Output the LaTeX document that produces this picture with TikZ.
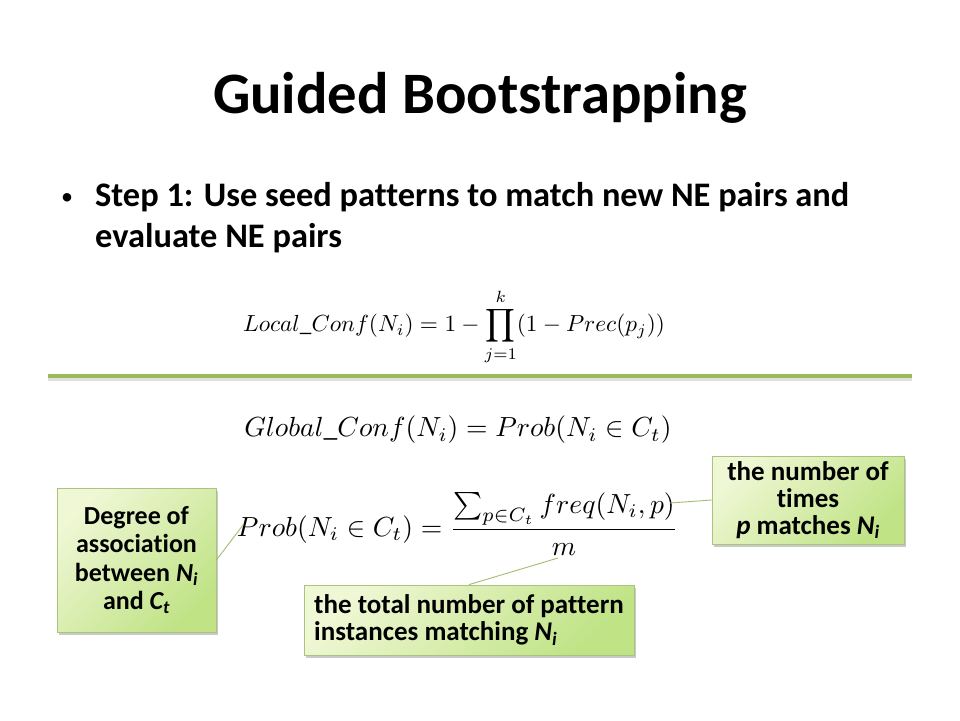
\documentclass[tikz,border=0pt]{standalone}
\usepackage[no-math]{fontspec}
\setmainfont{Carlito}[Ligatures=NoCommon]
\usepackage{graphicx}
\usetikzlibrary{shadows}
\definecolor{accent}{HTML}{9BBB59}
\definecolor{boxlight}{HTML}{EFF7D4}
\definecolor{boxdark}{HTML}{C0E386}
\definecolor{boxborder}{HTML}{A9C47E}
\definecolor{leader}{HTML}{A3BD6E}
\tikzset{
  callout/.style={draw=boxborder, line width=0.8pt, top color=boxlight, bottom color=boxdark,
    shading angle=45, inner sep=0pt,
    drop shadow={shadow xshift=2pt, shadow yshift=-3pt, opacity=0.35, fill=black!60}},
  calloutfont/.style 2 args={font=\fontsize{#1}{#2}\selectfont\bfseries},
  leaderline/.style={draw=leader, line width=0.9pt},
  formula/.style={inner sep=0pt, anchor=center},
}
\newcommand{\Nsub}{\textit{N\textsubscript{i}}}
\newcommand{\Csub}{\textit{C\textsubscript{t}}}
\begin{document}
\begin{tikzpicture}[x=1pt,y=-1pt]
\useasboundingbox[fill=white] (0,0) rectangle (960,720);
% title
\node[font=\fontsize{58.7}{64}\selectfont\bfseries, anchor=base] (title) at (480,113) {Guided Bootstrapping};
% bullet
\node[font=\fontsize{24}{30}\selectfont, anchor=base] (bul) at (67,204) {\textbullet};
\node[font=\fontsize{34.4}{41}\selectfont\bfseries, anchor=base west, align=left, inner sep=0pt] (step) at (95,247)
  {Step 1: Use seed patterns to match new NE pairs and\\evaluate NE pairs};
% separator line
\coordinate (ls) at (48,376);
\coordinate (le) at (912,376);
\draw[line width=3pt, black, opacity=0.12] ([yshift=-3pt]ls) -- ([yshift=-3pt]le);
\draw[line width=4pt, accent] (ls) -- (le);
% formulas
\node[formula] (f1) at (454,327) {\resizebox{422pt}{!}{$\displaystyle Local\_Conf(N_i)=1-\prod_{j=1}^{k}(1-Prec(p_j))$}};
\node[formula] (f2) at (458,430) {\resizebox{427pt}{!}{$\displaystyle Global\_Conf(N_i)=Prob(N_i\in C_t)$}};
\node[formula] (f3) at (457.5,524) {\resizebox{441pt}{!}{$\displaystyle Prob(N_i\in C_t)=\frac{\sum_{p\in C_t}freq(N_i,p)}{m}$}};
% callouts
\node[callout, calloutfont={26}{28.5}, minimum width=159pt, minimum height=144pt, align=center] (b1) at (136.5,560)
  {Degree of\\association\\between \Nsub\\and \Csub};
\node[callout, calloutfont={27}{27}, minimum width=330pt, minimum height=70pt, align=left] (b2) at (469,620)
  {the total number of pattern\\instances matching \Nsub};
\node[callout, calloutfont={27}{27}, minimum width=192pt, minimum height=88pt, align=center] (b3) at (808,500)
  {the number of\\times\\\textit{p} matches \Nsub};
% leader lines
\coordinate (t1) at (243,525);
\coordinate (t2) at (558,558);
\coordinate (t3) at (670,503);
\draw[leaderline] (b1.east) -- (t1);
\draw[leaderline] (b2.north) -- (t2);
\draw[leaderline] (b3.west) -- (t3);
\end{tikzpicture}
\end{document}
